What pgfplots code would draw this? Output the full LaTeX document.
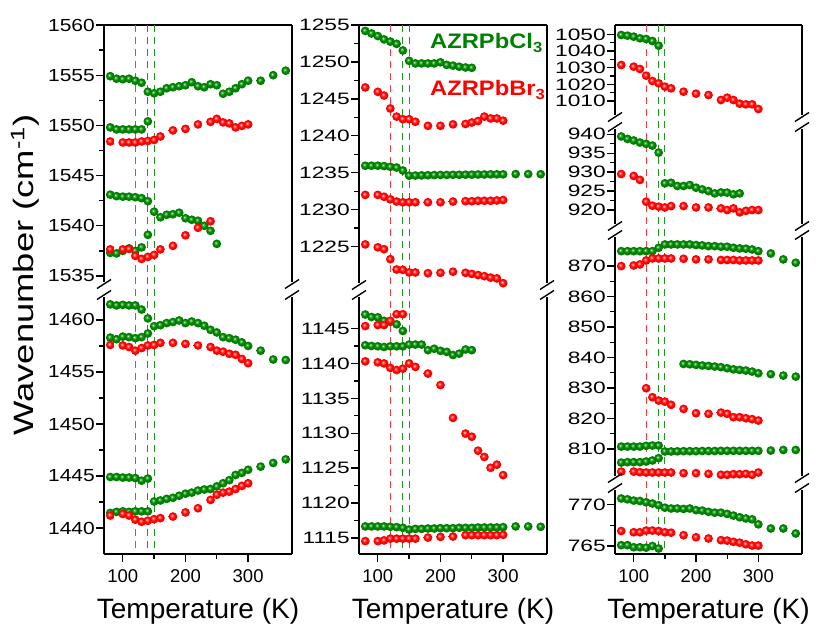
\documentclass[border=0pt]{standalone}
\usepackage{fontspec}
\setmainfont{Liberation Sans}
\newfontfamily\ylA{Liberation Sans}[FakeStretch=1.2]
\newfontfamily\ylB{Liberation Sans}[FakeStretch=1.38]
\newfontfamily\labfont{Liberation Sans}[FakeStretch=1.3]
\newfontfamily\legfont{Liberation Sans}[FakeStretch=1.13]
\usepackage{pgfplots}
\pgfplotsset{compat=1.18}

\definecolor{gC}{RGB}{0,128,0}
\definecolor{gHi}{RGB}{215,245,215}
\definecolor{gLt}{RGB}{90,190,90}
\definecolor{gDk}{RGB}{0,80,0}
\definecolor{rC}{RGB}{255,0,0}
\definecolor{rHi}{RGB}{255,225,225}
\definecolor{rLt}{RGB}{255,120,120}
\definecolor{rDk}{RGB}{175,0,0}
\definecolor{gLine}{RGB}{30,150,30}
\definecolor{rLine}{RGB}{250,60,60}

\pgfdeclareradialshading{gshade}{\pgfpoint{-7bp}{7bp}}{color(0bp)=(gHi); color(5bp)=(gLt); color(13bp)=(gC); color(24bp)=(gC); color(34bp)=(gDk); color(50bp)=(gDk)}
\pgfdeclareradialshading{rshade}{\pgfpoint{-7bp}{7bp}}{color(0bp)=(rHi); color(5bp)=(rLt); color(13bp)=(rC); color(24bp)=(rC); color(34bp)=(rDk); color(50bp)=(rDk)}
\pgfdeclareplotmark{gball}{\pgfpathcircle{\pgfpointorigin}{\pgfplotmarksize}\pgfshadepath{gshade}{0}\pgfusepath{}}
\pgfdeclareplotmark{rball}{\pgfpathcircle{\pgfpointorigin}{\pgfplotmarksize}\pgfshadepath{rshade}{0}\pgfusepath{}}

\tikzset{
  rdash/.style={rLine, line width=1.2pt, dash pattern=on 7pt off 5pt},
  gdash/.style={gLine, line width=1.2pt, dash pattern=on 7pt off 5pt},
}

\pgfplotsset{
  seg/.style={scale only axis, anchor=south west, xmin=70, xmax=370,
    tick align=outside, major tick length=8pt, minor tick length=5pt,
    ytick pos=left, minor y tick num=1,
    axis line style={line width=1.6pt},
    every tick/.append style={line width=1.3pt, black},
    yticklabel style={inner sep=1pt},
    /pgf/number format/assume math mode=true,
    /pgf/number format/set thousands separator={},
    scaled y ticks=false},
  topseg/.style={seg, axis x line*=top, xtick=\empty, clip mode=individual},
  midseg/.style={seg, axis x line=none, xtick=\empty},
  botseg/.style={seg, axis x line*=bottom, xtick={100,200,300}, minor x tick num=1,
    xticklabel style={font=\fontsize{18.5}{20}\selectfont, yshift=-4pt},
    xlabel={Temperature (K)},
    xlabel style={font=\fontsize{28}{30}\selectfont, yshift=-9pt}},
  cA/.style={yticklabel style={font=\ylA\fontsize{17.5}{18}\selectfont}},
  cB/.style={yticklabel style={font=\ylB\fontsize{16.5}{18}\selectfont}},
  gp/.style={only marks, mark=gball, mark size=4.4pt},
  rp/.style={only marks, mark=rball, mark size=4.4pt},
}

\newcommand\brk[2]{%
  \fill[white] (#1-6pt,#2-2pt) rectangle (#1+6pt,#2+2pt);
  \draw[line width=1.4pt] (#1-7pt,#2-4.5pt) -- (#1+7pt,#2+4.5pt);}

\begin{document}
\begin{tikzpicture}
\useasboundingbox (0,0) rectangle (816pt,625pt);

% ---------------- column 1 ----------------
\begin{axis}[topseg, cA, at={(104pt,341pt)}, width=188pt, height=259pt,
  ymin=1534.2, ymax=1560, ytick={1535,1540,...,1560}]
\draw[rdash] (axis cs:120,1560) -- (axis cs:120,1507.3);
\draw[gdash] (axis cs:140,1560) -- (axis cs:140,1507.3);
\draw[gdash] (axis cs:150,1560) -- (axis cs:150,1507.3);
\addplot[gp] coordinates {(80,1554.9)(90,1554.65)(100,1554.6)(110,1554.65)(120,1554.45)(130,1554.25)(140,1553.35)(150,1553.2)(160,1553.35)(170,1553.7)(180,1553.8)(190,1553.9)(200,1554.0)(210,1554.3)(220,1553.9)(230,1553.8)(240,1554.1)(250,1554.0)(260,1553.15)(270,1553.35)(280,1553.7)(290,1554.1)(300,1554.45)(320,1554.45)(340,1555.0)(360,1555.45)};
\addplot[gp] coordinates {(80,1549.8)(90,1549.6)(100,1549.6)(110,1549.6)(120,1549.6)(130,1549.6)(140,1550.4)};
\addplot[rp] coordinates {(80,1548.4)(100,1548.3)(110,1548.3)(120,1548.3)(130,1548.4)(140,1548.45)(150,1548.55)(160,1548.9)(180,1549.5)(200,1549.65)(220,1550.1)(240,1550.35)(250,1550.65)(260,1550.3)(270,1550.2)(280,1549.8)(290,1549.95)(300,1550.1)};
\addplot[gp] coordinates {(80,1543.1)(90,1542.95)(100,1542.9)(110,1542.9)(120,1542.85)(130,1542.75)(140,1542.45)(150,1541.4)(160,1540.85)(170,1541.1)(180,1541.15)(190,1541.3)(200,1540.75)(210,1540.6)(220,1540.5)(230,1540.0)(240,1539.5)(250,1538.2)};
\addplot[gp] coordinates {(80,1537.3)(90,1537.25)(100,1537.5)(110,1537.75)(120,1537.5)(130,1537.85)(140,1539.1)};
\addplot[rp] coordinates {(80,1537.65)(100,1537.65)(110,1537.7)(120,1537.0)(130,1536.7)(140,1536.9)(150,1537.1)(160,1537.65)(180,1538.0)(200,1539.05)(220,1539.8)(240,1540.45)};
\end{axis}

\begin{axis}[botseg, cA, at={(104pt,71pt)}, width=188pt, height=259pt,
  ymin=1437.5, ymax=1462.4, ytick={1440,1445,...,1460}]
\addplot[gp] coordinates {(80,1461.5)(90,1461.4)(100,1461.45)(110,1461.4)(120,1461.4)(130,1461.0)(140,1460.15)};
\addplot[gp] coordinates {(150,1459.4)(160,1459.5)(170,1459.7)(180,1459.8)(190,1459.95)(200,1459.7)(210,1459.85)(220,1459.7)(230,1459.45)(240,1459.05)(250,1458.8)(260,1458.35)(270,1458.25)(280,1458.1)(290,1457.85)(300,1457.5)(320,1457.05)(340,1456.2)(360,1456.15)};
\addplot[gp] coordinates {(80,1458.3)(90,1458.15)(100,1458.4)(110,1458.35)(120,1458.25)(130,1458.35)(140,1458.7)};
\addplot[rp] coordinates {(80,1457.6)(100,1457.55)(110,1457.4)(120,1457.05)(130,1457.3)(140,1457.55)(150,1457.6)(160,1457.8)(180,1457.8)(200,1457.7)(220,1457.55)(240,1457.4)(250,1457.05)(260,1456.95)(270,1456.75)(280,1456.65)(290,1456.25)(300,1455.85)};
\addplot[gp] coordinates {(80,1444.9)(90,1444.9)(100,1444.85)(110,1444.85)(120,1444.8)(130,1444.55)(140,1444.75)};
\addplot[gp] coordinates {(80,1441.45)(90,1441.55)(100,1441.6)(110,1441.55)(120,1441.6)(130,1441.6)(140,1441.6)};
\addplot[gp] coordinates {(150,1442.55)(160,1442.65)(170,1442.8)(180,1442.9)(190,1443.1)(200,1443.3)(210,1443.4)(220,1443.6)(230,1443.7)(240,1443.75)(250,1444.0)(260,1444.3)(270,1444.6)(280,1445.1)(290,1445.3)(300,1445.6)(320,1445.9)(340,1446.25)(360,1446.6)};
\addplot[rp] coordinates {(80,1441.2)(100,1441.35)(110,1441.2)(120,1440.8)(130,1440.6)(140,1440.7)(150,1440.85)(160,1440.95)(180,1441.1)(200,1441.5)(220,1441.9)(240,1442.7)(250,1443.2)(260,1443.4)(270,1443.5)(280,1443.75)(290,1444.05)(300,1444.3)};
\end{axis}

% ---------------- column 2 ----------------
\begin{axis}[topseg, cB, at={(359pt,340pt)}, width=188pt, height=260pt,
  ymin=1219.8, ymax=1255, ytick={1225,1230,...,1255}]
\draw[rdash] (axis cs:120,1255) -- (axis cs:120,1183.4);
\draw[gdash] (axis cs:140,1255) -- (axis cs:140,1183.4);
\draw[gdash] (axis cs:150,1255) -- (axis cs:150,1183.4);
\addplot[gp] coordinates {(80,1254.2)(90,1253.85)(100,1253.5)(110,1253.05)(120,1252.75)(130,1252.45)(140,1251.55)(150,1250.15)(160,1249.8)(170,1249.8)(180,1249.8)(190,1249.8)(200,1249.95)(210,1249.6)(220,1249.5)(230,1249.35)(240,1249.25)(250,1249.2)};
\addplot[rp] coordinates {(80,1246.55)(100,1245.95)(110,1245.45)(120,1243.7)(130,1242.6)(140,1242.25)(150,1242.25)(160,1241.9)(180,1241.35)(200,1241.35)(220,1241.55)(240,1241.6)(250,1241.8)(260,1242.0)(270,1242.6)(280,1242.35)(290,1242.35)(300,1242.05)};
\addplot[gp] coordinates {(80,1235.95)(90,1235.95)(100,1235.95)(110,1235.9)(120,1235.8)(130,1235.7)(140,1235.3)(150,1234.6)(160,1234.62)(170,1234.64)(180,1234.66)(190,1234.68)(200,1234.7)(210,1234.7)(220,1234.72)(230,1234.72)(240,1234.74)(250,1234.74)(260,1234.76)(270,1234.76)(280,1234.78)(290,1234.78)(300,1234.78)(320,1234.82)(340,1234.82)(360,1234.8)};
\addplot[rp] coordinates {(80,1232.0)(100,1232.0)(110,1231.75)(120,1231.4)(130,1231.1)(140,1231.0)(150,1231.0)(160,1231.0)(180,1231.0)(200,1231.0)(220,1231.1)(240,1231.15)(250,1231.15)(260,1231.2)(270,1231.2)(280,1231.2)(290,1231.25)(300,1231.3)};
\addplot[rp] coordinates {(80,1225.3)(100,1224.9)(110,1224.65)(120,1223.3)(130,1221.9)(140,1221.85)(150,1221.5)(160,1221.5)(180,1221.4)(200,1221.45)(220,1221.6)(240,1221.45)(250,1221.3)(260,1221.15)(270,1221.0)(280,1220.8)(290,1220.7)(300,1220.05)};
\end{axis}

\begin{axis}[botseg, cB, at={(359pt,71pt)}, width=188pt, height=259pt,
  ymin=1112.7, ymax=1149.8, ytick={1115,1120,...,1145}]
\addplot[gp] coordinates {(80,1147.0)(90,1146.65)(100,1146.6)(110,1146.1)(120,1145.95)(130,1145.6)(140,1144.65)};
\addplot[rp] coordinates {(80,1145.35)(100,1145.5)(110,1145.5)(120,1146.1)(130,1147.05)(140,1147.05)};
\addplot[gp] coordinates {(80,1142.6)(90,1142.5)(100,1142.45)(110,1142.35)(120,1142.45)(130,1142.45)(140,1142.45)(150,1142.7)(160,1142.7)(170,1142.7)(180,1141.9)(190,1142.1)(200,1141.8)(210,1141.65)(220,1141.2)(230,1141.4)(240,1142.0)(250,1141.9)};
\addplot[rp] coordinates {(80,1140.3)(100,1140.15)(110,1140.0)(120,1139.35)(130,1139.05)(140,1139.25)(150,1140.0)(160,1139.5)(180,1138.55)(200,1136.9)(220,1132.2)(240,1129.95)(250,1129.5)(260,1127.5)(270,1126.6)(280,1125.05)(290,1125.5)(300,1124.0)};
\addplot[gp] coordinates {(80,1116.65)(90,1116.65)(100,1116.65)(110,1116.65)(120,1116.6)(130,1116.55)(140,1116.45)(150,1116.2)(160,1116.3)(170,1116.3)(180,1116.35)(190,1116.35)(200,1116.4)(210,1116.4)(220,1116.4)(230,1116.45)(240,1116.45)(250,1116.45)(260,1116.5)(270,1116.5)(280,1116.5)(290,1116.5)(300,1116.55)(320,1116.65)(340,1116.65)(360,1116.6)};
\addplot[rp] coordinates {(80,1114.55)(100,1114.55)(110,1114.65)(120,1114.9)(130,1114.9)(140,1114.9)(150,1114.9)(160,1114.9)(180,1115.05)(200,1115.15)(220,1115.2)(240,1115.4)(250,1115.4)(260,1115.4)(270,1115.4)(280,1115.4)(290,1115.4)(300,1115.45)};
\end{axis}

% ---------------- column 3 ----------------
\begin{axis}[topseg, cB, at={(615pt,508pt)}, width=187pt, height=92pt,
  ymin=1000.4, ymax=1055.6, ytick={1010,1020,...,1050}]
\draw[rdash] (axis cs:120,1055.6) -- (axis cs:120,738.2);
\draw[gdash] (axis cs:140,1055.6) -- (axis cs:140,738.2);
\draw[gdash] (axis cs:150,1055.6) -- (axis cs:150,738.2);
\addplot[gp] coordinates {(80,1049.6)(90,1049.2)(100,1048.6)(110,1047.6)(120,1047.2)(130,1046.0)(140,1043.2)};
\addplot[rp] coordinates {(80,1031.6)(100,1030.6)(110,1029.2)(120,1025.2)(130,1022.0)(140,1020.6)(150,1018.6)(160,1017.6)(180,1015.6)(200,1014.4)(220,1013.6)(240,1010.6)(250,1012.0)(260,1010.6)(270,1008.4)(280,1008.0)(290,1008.0)(300,1005.2)};
\end{axis}

\begin{axis}[midseg, cB, at={(615pt,399pt)}, width=187pt, height=99pt,
  ymin=915.8, ymax=941.9, ytick={920,925,...,940}]
\addplot[gp] coordinates {(80,939.4)(90,938.75)(100,938.35)(110,937.8)(120,937.45)(130,937.0)(140,935.15)};
\addplot[gp] coordinates {(150,927.05)(160,927.2)(170,926.35)(180,926.35)(190,926.6)(200,925.9)(210,925.45)(220,925.0)(230,924.4)(240,924.65)(250,924.6)(260,924.15)(270,924.4)};
\addplot[rp] coordinates {(80,929.5)(100,929.0)(110,927.95)(120,922.2)(130,921.15)(140,920.9)(150,920.7)(160,921.05)(180,921.05)(200,920.7)(220,920.7)(240,920.45)(250,920.0)(260,920.45)(270,919.4)(280,919.8)(290,920.0)(300,920.0)};
\end{axis}

\begin{axis}[midseg, cB, at={(615pt,147pt)}, width=187pt, height=243pt,
  ymin=800.5, ymax=880.2, ytick={810,820,...,870}]
\addplot[gp] coordinates {(80,874.9)(90,874.9)(100,874.9)(110,874.9)(120,874.9)(130,874.9)(140,876.0)(150,877.1)(160,877.1)(170,877.1)(180,877.1)(190,877.1)(200,876.9)(210,876.8)(220,876.55)(230,876.55)(240,876.35)(250,876.35)(260,876.0)(270,875.8)(280,875.7)(290,875.45)(300,874.9)(320,874.15)(340,872.2)(360,871.1)};
\addplot[rp] coordinates {(80,870.0)(100,870.2)(110,870.55)(120,871.85)(130,872.5)(140,872.5)(150,872.5)(160,872.5)(180,872.4)(200,872.2)(220,872.2)(240,872.0)(250,872.0)(260,872.0)(270,871.85)(280,871.85)(290,871.85)(300,871.85)};
\addplot[gp] coordinates {(180,837.9)(190,837.8)(200,837.6)(210,837.4)(220,837.25)(230,837.05)(240,836.85)(250,836.5)(260,836.15)(270,835.95)(280,835.75)(290,835.4)(300,834.85)(320,834.55)(340,834.1)(360,833.75)};
\addplot[rp] coordinates {(120,829.95)(130,827.0)(140,825.9)(150,825.55)(160,824.5)(180,823.15)(200,821.75)(220,821.55)(240,821.95)(250,821.55)(260,820.45)(270,820.45)(280,820.1)(290,819.8)(300,819.35)};
\addplot[gp] coordinates {(80,810.8)(90,810.8)(100,810.8)(110,810.8)(120,811.05)(130,811.15)(140,811.15)(150,809.2)(160,809.2)(170,809.25)(180,809.3)(190,809.3)(200,809.3)(210,809.35)(220,809.35)(230,809.35)(240,809.4)(250,809.4)(260,809.4)(270,809.4)(280,809.4)(290,809.4)(300,809.4)(320,809.5)(340,809.7)(360,809.7)};
\addplot[gp] coordinates {(80,805.55)(90,805.7)(100,805.7)(110,805.7)(120,805.9)(130,806.25)(140,807.0)};
\addplot[rp] coordinates {(80,802.6)(100,802.6)(110,802.4)(120,802.3)(130,802.3)(140,802.3)(150,802.3)(160,802.3)(180,802.1)(200,802.1)(220,801.85)(240,801.55)(250,801.55)(260,801.75)(270,801.75)(280,801.85)(290,801.55)(300,802.3)};
\end{axis}

\begin{axis}[botseg, cB, at={(615pt,71pt)}, width=187pt, height=66pt,
  ymin=764.04, ymax=771.96, ytick={765,770}]
\addplot[gp] coordinates {(80,770.7)(90,770.6)(100,770.45)(110,770.4)(120,770.25)(130,770.1)(140,769.9)(150,769.6)(160,769.5)(170,769.5)(180,769.45)(190,769.5)(200,769.3)(210,769.25)(220,769.1)(230,769.0)(240,769.0)(250,768.85)(260,768.65)(270,768.45)(280,768.3)(290,768.2)(300,767.6)(320,767.1)(340,767.1)(360,766.5)};
\addplot[rp] coordinates {(80,766.8)(100,766.65)(110,766.65)(120,766.85)(130,766.85)(140,766.8)(150,766.65)(160,766.6)(180,766.3)(200,766.05)(220,765.9)(240,765.7)(250,765.65)(260,765.5)(270,765.4)(280,765.2)(290,765.05)(300,765.05)};
\addplot[gp] coordinates {(80,765.1)(90,765.1)(100,764.85)(110,764.85)(120,764.8)(130,765.0)(140,764.7)};
\end{axis}

% axis breaks
\brk{104pt}{341pt}\brk{104pt}{330pt}\brk{292pt}{341pt}\brk{292pt}{330pt}
\brk{359pt}{340pt}\brk{359pt}{330pt}\brk{547pt}{340pt}\brk{547pt}{330pt}
\brk{615pt}{508pt}\brk{615pt}{498pt}\brk{802pt}{508pt}\brk{802pt}{498pt}
\brk{615pt}{399pt}\brk{615pt}{390pt}\brk{802pt}{399pt}\brk{802pt}{390pt}
\brk{615pt}{147pt}\brk{615pt}{137pt}\brk{802pt}{147pt}\brk{802pt}{137pt}

\node[rotate=90, font=\labfont\fontsize{28}{30}\selectfont] at (25pt,350pt) {Wavenumber (cm\textsuperscript{-1})};
\node[anchor=base west, inner sep=0pt, text=gC, font=\legfont\bfseries\fontsize{21}{24}\selectfont] at (430pt,576pt) {AZRPbCl\textsubscript{3}};
\node[anchor=base west, inner sep=0pt, text=rC, font=\legfont\bfseries\fontsize{21}{24}\selectfont] at (430pt,529pt) {AZRPbBr\textsubscript{3}};
\end{tikzpicture}
\end{document}
